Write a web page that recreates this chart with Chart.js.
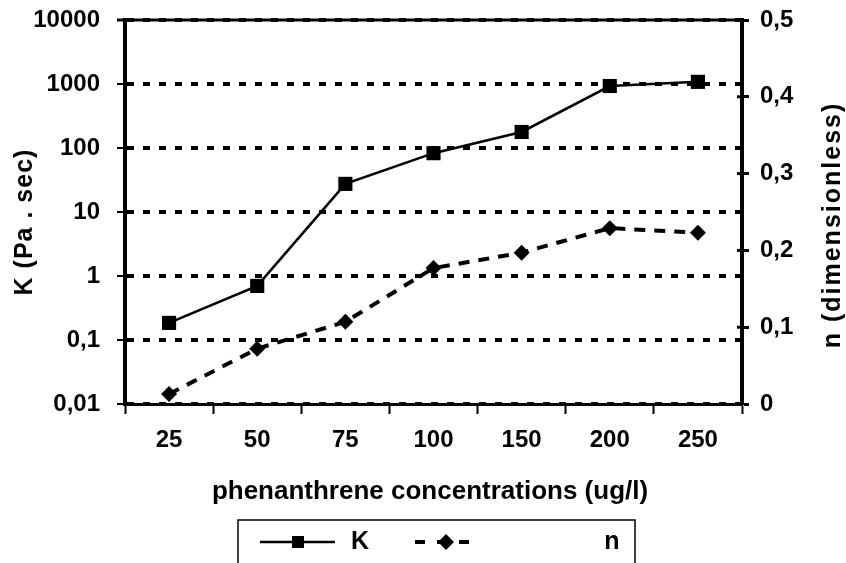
<!DOCTYPE html>
<html>
<head>
<meta charset="utf-8">
<script src="https://cdn.jsdelivr.net/npm/chart.js@4.4.1/dist/chart.umd.min.js"></script>
<style>
	body { margin: 0; background: #fff; }
	#wrap { width: 846px; height: 563px; position: relative; }
</style>
</head>
<body>
<div id="wrap"><canvas id="chart"></canvas></div>
<script>
const categories = ["25", "50", "75", "100", "150", "200", "250"];
const kValues = [0.185, 0.7, 27.5, 83, 178, 930, 1080];
const nValues = [0.013, 0.072, 0.107, 0.177, 0.197, 0.229, 0.223];
const kTicks = [0.01, 0.1, 1, 10, 100, 1000, 10000];
const kTickLabels = ["0,01", "0,1", "1", "10", "100", "1000", "10000"];
const nTickLabels = ["0", "0,1", "0,2", "0,3", "0,4", "0,5"];

const FONT = "'Liberation Sans', Arial, sans-serif";
Chart.defaults.font.family = FONT;
Chart.defaults.color = "#000";

const tickFont = { family: FONT, size: 24, weight: "bold" };

// titles, frame and the boxed legend at the bottom
const extras = {
	id: "extras",
	afterDraw: chart => {
		const ctx = chart.ctx;
		const area = chart.chartArea;
		ctx.save();
		ctx.strokeStyle = "#000";
		ctx.lineWidth = 3;
		ctx.beginPath();
		ctx.moveTo(area.left - 8, area.top);
		ctx.lineTo(area.right, area.top);
		ctx.stroke();

		// right axis ticks poke a little into the plot
		const y1 = chart.scales.y1;
		ctx.lineWidth = 3;
		y1.ticks.forEach((t, i) => {
			const py = y1.getPixelForTick(i);
			ctx.beginPath();
			ctx.moveTo(area.right - 5, py);
			ctx.lineTo(area.right, py);
			ctx.stroke();
		});

		ctx.fillStyle = "#000";
		ctx.font = "bold 26px " + FONT;
		ctx.textAlign = "center";
		ctx.textBaseline = "middle";
		ctx.fillText("phenanthrene concentrations (ug/l)", 430, 492);

		ctx.font = "bold 25px " + FONT;
		ctx.save();
		ctx.letterSpacing = "1px";
		ctx.translate(25, 222);
		ctx.rotate(-Math.PI / 2);
		ctx.fillText("K (Pa . sec)", 0, 0);
		ctx.restore();

		ctx.save();
		ctx.letterSpacing = "2px";
		ctx.translate(833, 225);
		ctx.rotate(-Math.PI / 2);
		ctx.fillText("n (dimensionless)", 0, 0);
		ctx.restore();

		// legend
		ctx.lineWidth = 1.5;
		ctx.strokeRect(238, 520, 397, 70);
		const ly = 542;
		ctx.lineWidth = 2.5;
		ctx.beginPath();
		ctx.moveTo(260, ly);
		ctx.lineTo(335, ly);
		ctx.stroke();
		ctx.fillRect(298 - 6, ly - 6, 12, 12);
		ctx.fillText("K", 360, ly);

		ctx.lineWidth = 4;
		ctx.setLineDash([10, 12]);
		ctx.beginPath();
		ctx.moveTo(415, ly);
		ctx.lineTo(477, ly);
		ctx.stroke();
		ctx.setLineDash([]);
		ctx.beginPath();
		ctx.moveTo(446, ly - 8);
		ctx.lineTo(454, ly);
		ctx.lineTo(446, ly + 8);
		ctx.lineTo(438, ly);
		ctx.closePath();
		ctx.fill();
		ctx.fillText("n", 612, ly);
		ctx.restore();
	},
};

const ctx = document.querySelector("#chart").getContext("2d");
const myChart = new Chart(ctx, {
	type: "line",
	data: {
		labels: categories,
		datasets: [
			{
				label: "K",
				data: kValues,
				yAxisID: "y",
				borderColor: "#000",
				backgroundColor: "#000",
				borderWidth: 2.5,
				pointStyle: "rect",
				pointRadius: 10,
				pointBorderWidth: 0,
				tension: 0,
			},
			{
				label: "n",
				data: nValues,
				yAxisID: "y1",
				borderColor: "#000",
				backgroundColor: "#000",
				borderWidth: 4,
				borderDash: [11, 9],
				pointStyle: "rectRot",
				pointRadius: 8,
				pointBorderWidth: 0,
				tension: 0,
			},
		],
	},
	options: {
		responsive: true,
		maintainAspectRatio: false,
		animation: false,
		layout: { padding: { top: 20, left: 0, right: 0, bottom: 0 } },
		plugins: {
			legend: { display: false },
			tooltip: { enabled: false },
		},
		scales: {
			x: {
				offset: true,
				grid: {
					offset: true,
					drawOnChartArea: false,
					tickLength: 10,
					tickWidth: 2,
					tickColor: "#000",
				},
				border: { color: "#000", width: 3 },
				ticks: { font: tickFont, padding: 12, autoSkip: false, maxRotation: 0 },
				afterFit: scale => {
					scale.height = 159;
					scale.paddingLeft = 0;
					scale.paddingRight = 0;
				},
			},
			y: {
				type: "logarithmic",
				position: "left",
				min: 0.01,
				max: 10000,
				afterBuildTicks: scale => {
					scale.ticks = kTicks.map(v => ({ value: v }));
				},
				ticks: {
					font: tickFont,
					padding: 17,
					callback: (value, index) => kTickLabels[index],
				},
				grid: {
					color: "#000",
					lineWidth: 4,
					tickLength: 8,
					tickWidth: 2,
					tickColor: "#000",
				},
				border: { color: "#000", width: 4, dash: [7, 9] },
				afterFit: scale => {
					scale.width = 125;
					scale.paddingTop = 0;
					scale.paddingBottom = 0;
				},
			},
			y1: {
				type: "linear",
				position: "right",
				min: 0,
				max: 0.5,
				ticks: {
					stepSize: 0.1,
					font: tickFont,
					padding: 11,
					callback: (value, index) => nTickLabels[index],
				},
				grid: {
					drawOnChartArea: false,
					tickLength: 7,
					tickWidth: 3,
					tickColor: "#000",
				},
				border: { color: "#000", width: 4 },
				afterFit: scale => {
					scale.width = 104;
					scale.paddingTop = 0;
					scale.paddingBottom = 0;
				},
			},
		},
	},
	plugins: [extras],
});
</script>
</body>
</html>
